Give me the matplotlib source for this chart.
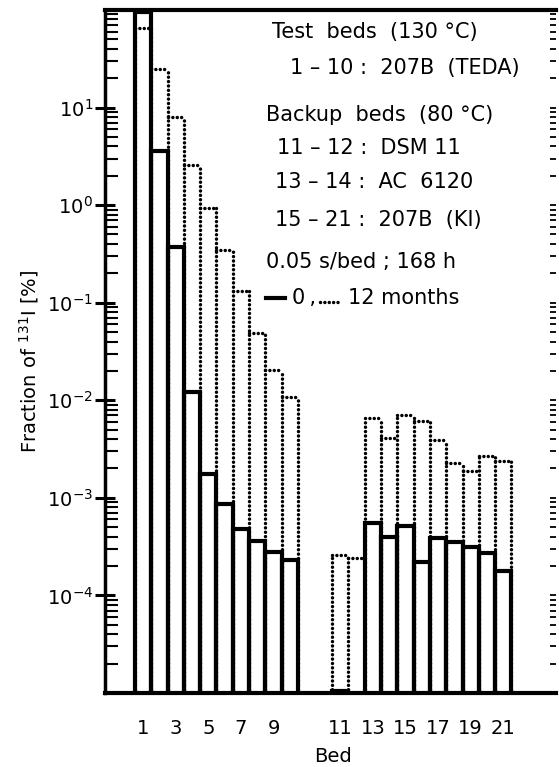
import numpy as np
import matplotlib
matplotlib.use('Agg')
import matplotlib.pyplot as plt
from matplotlib.ticker import FixedLocator, LogLocator, NullFormatter, LogFormatterSciNotation

# beds 1-10: test beds, beds 11-21: backup beds
beds_test = np.arange(1, 11)
beds_backup = np.arange(11, 22)

# fraction of 131I [%] after 0 months (solid) and 12 months (dotted)
test_0m = [96, 3.6, 0.37, 0.0121, 1.77e-3, 8.7e-4, 4.8e-4, 3.6e-4, 2.8e-4, 2.3e-4]
test_12m = [65, 24.9, 8.0, 2.6, 0.94, 0.35, 0.133, 0.0486, 0.0202, 0.0107]
backup_0m = [1.05e-5, 8e-6, 5.5e-4, 3.97e-4, 5.1e-4, 2.2e-4, 3.9e-4, 3.5e-4, 3.1e-4, 2.7e-4, 1.8e-4]
backup_12m = [2.6e-4, 2.4e-4, 6.6e-3, 4.1e-3, 7.0e-3, 6.1e-3, 3.9e-3, 2.3e-3, 1.9e-3, 2.7e-3, 2.4e-3]

tick_beds = [1, 3, 5, 7, 9, 11, 13, 15, 17, 19, 21]

gap = 2.1   # empty space between the two groups (in bed widths)
base = 1e-6
dots = (0, (0.01, 1.25))   # round dots
dot_lw = 2.5

fig = plt.figure(figsize=(5.59, 7.67), dpi=100)
ax = fig.add_axes([0.1878, 0.0965, 0.8068, 0.8905])
ax.set_yscale('log')


def dotted_bars(ax, x, h):
    # outline of touching bars: each edge goes down from the taller neighbour
    x = np.asarray(x, dtype=float)
    h = np.asarray(h, dtype=float)
    edges = np.concatenate([x - 0.5, [x[-1] + 0.5]])
    tops = np.maximum(np.concatenate([h, [0]]), np.concatenate([[0], h]))
    sty = dict(colors='black', linewidth=dot_lw, linestyles=dots, capstyle='round')
    ax.vlines(edges, base, tops, **sty)
    ax.hlines(h, x - 0.5, x + 0.5, **sty)


x_test = beds_test
x_backup = beds_backup + gap

dotted_bars(ax, x_test, test_12m)
dotted_bars(ax, x_backup, backup_12m)

for x, h in [(x_test, test_0m), (x_backup, backup_0m)]:
    ax.bar(x, np.asarray(h) - base, width=1, bottom=base, fill=False,
           edgecolor='black', linewidth=3, joinstyle='miter')

ax.set_ylim(1e-5, 1e2)
ax.set_xlim(-1.34, 26.33)

# y ticks
ax.yaxis.set_major_locator(FixedLocator([1e-4, 1e-3, 1e-2, 1e-1, 1, 10]))
ax.yaxis.set_major_formatter(LogFormatterSciNotation())
ax.yaxis.set_minor_locator(LogLocator(base=10, subs=np.arange(2, 10), numticks=30))
ax.yaxis.set_minor_formatter(NullFormatter())
ax.tick_params(axis='y', which='major', direction='inout', length=15, width=2.2,
               labelsize=14, pad=1)
ax.tick_params(axis='y', which='minor', direction='in', length=9, width=1.5)

# right side: only small ticks, no spine
ax2 = ax.twinx()
ax2.set_yscale('log')
ax2.set_ylim(1e-5, 1e2)
ax2.yaxis.set_major_locator(FixedLocator([1e-4, 1e-3, 1e-2, 1e-1, 1, 10]))
ax2.yaxis.set_minor_locator(LogLocator(base=10, subs=np.arange(2, 10), numticks=30))
ax2.yaxis.set_major_formatter(NullFormatter())
ax2.yaxis.set_minor_formatter(NullFormatter())
ax2.tick_params(axis='y', which='both', direction='in', length=4, width=1.3)
for s in ax2.spines.values():
    s.set_visible(False)

# x ticks
tick_pos = [b if b <= 10 else b + gap for b in tick_beds]
ax.set_xticks(tick_pos)
ax.set_xticklabels([str(b) for b in tick_beds])
ax.tick_params(axis='x', length=0, pad=19, labelsize=14)

ax.spines['right'].set_visible(False)
ax.spines['left'].set_linewidth(2.5)
ax.spines['bottom'].set_linewidth(3)
ax.spines['top'].set_linewidth(3)

ax.set_ylabel(r'Fraction of $^{131}\mathrm{I}$ [%]', fontsize=14)
ax.yaxis.set_label_coords(-0.141, 0.485)
ax.set_xlabel('Bed', fontsize=14)
ax.xaxis.set_label_coords(0.5055, -0.079)

# annotation block
fs = 15
ax.text(0.3696, 0.968, 'Test  beds  (130 °C)', fontsize=fs, va='center', transform=ax.transAxes)
ax.text(0.410, 0.9146, '1 – 10 :  207B  (TEDA)', fontsize=fs, va='center', transform=ax.transAxes)
ax.text(0.357, 0.8463, 'Backup  beds  (80 °C)', fontsize=fs, va='center', transform=ax.transAxes)
ax.text(0.381, 0.7975, '11 – 12 :  DSM 11', fontsize=fs, va='center', transform=ax.transAxes)
ax.text(0.377, 0.7486, '13 – 14 :  AC  6120', fontsize=fs, va='center', transform=ax.transAxes)
ax.text(0.377, 0.6925, '15 – 21 :  207B  (KI)', fontsize=fs, va='center', transform=ax.transAxes)
ax.text(0.357, 0.6315, '0.05 s/bed ; 168 h', fontsize=fs, va='center', transform=ax.transAxes)
ax.plot([0.357, 0.399], [0.5783, 0.5783], color='black', linewidth=3,
        transform=ax.transAxes, clip_on=False)
ax.text(0.414, 0.578, '0\u2009,', fontsize=fs, va='center', transform=ax.transAxes)
ax.plot([0.476, 0.522], [0.573, 0.573], color='black', linewidth=dot_lw,
        linestyle=dots, dash_capstyle='round', transform=ax.transAxes, clip_on=False)
ax.text(0.538, 0.578, '12 months', fontsize=fs, va='center', transform=ax.transAxes)

fig.savefig('out.png', dpi=100)
